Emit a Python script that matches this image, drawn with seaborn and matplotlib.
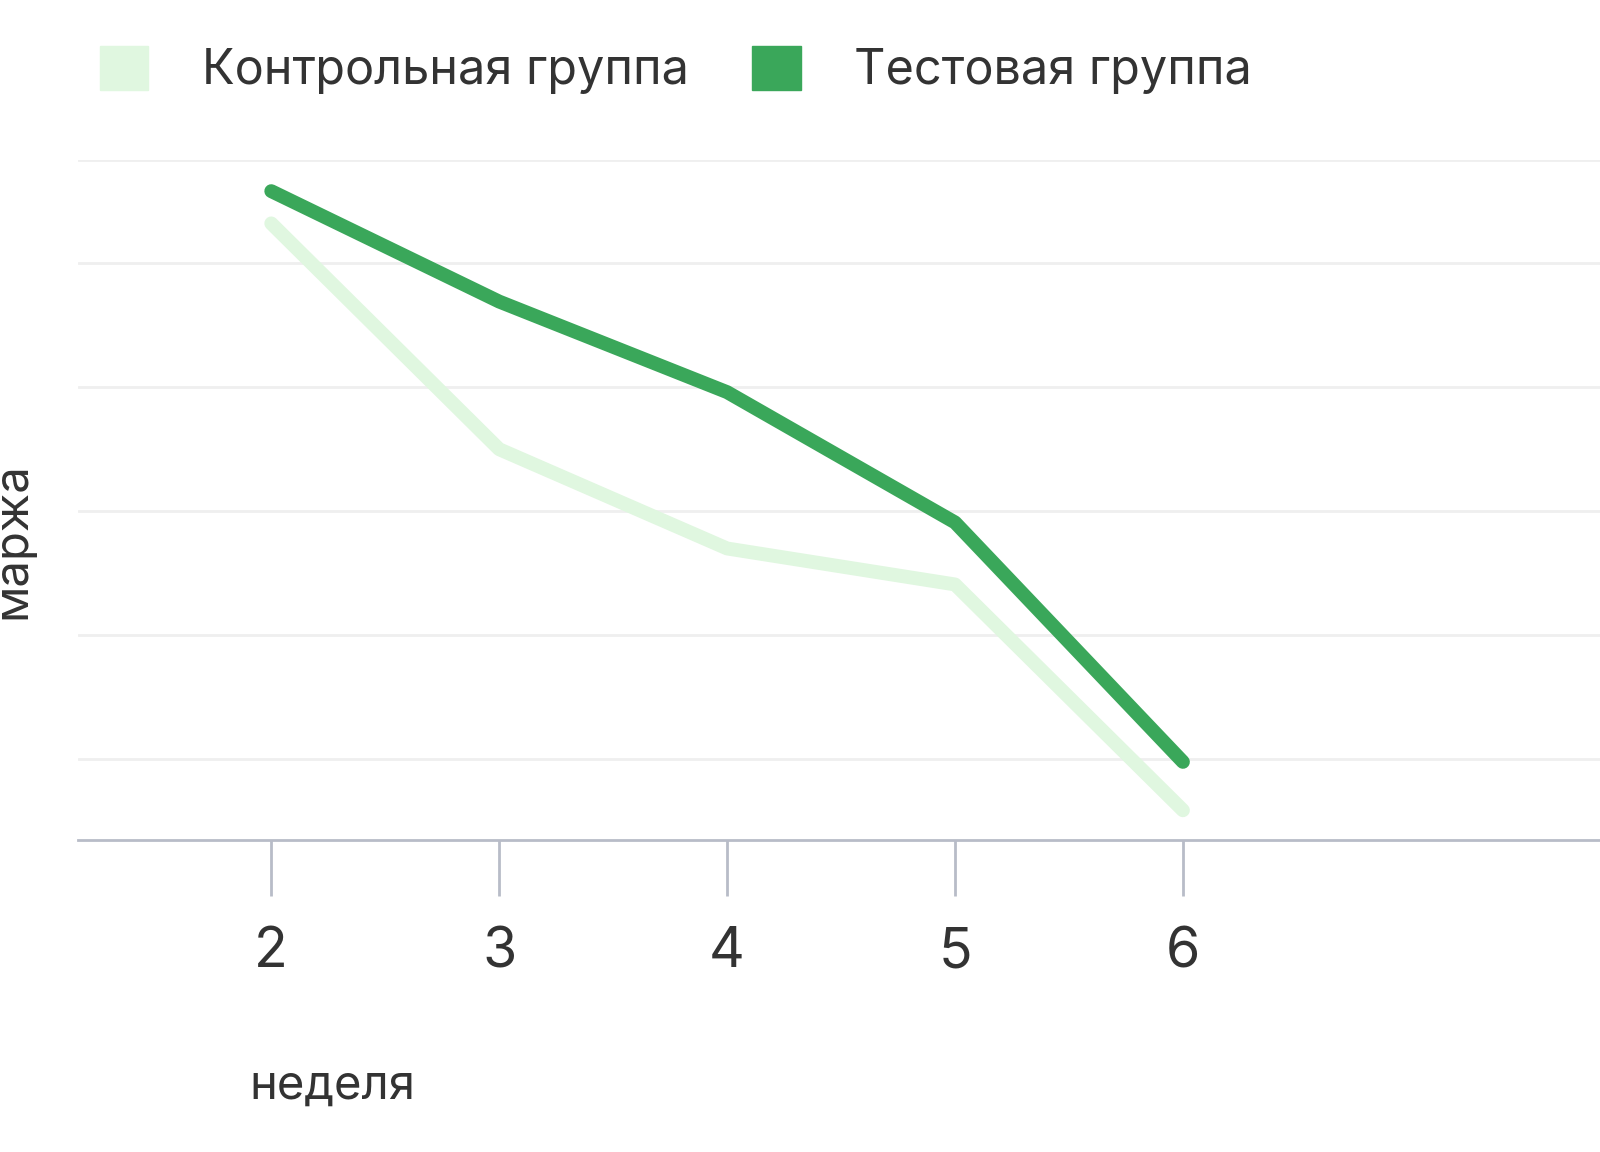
import matplotlib
matplotlib.use("Agg")
import matplotlib.pyplot as plt
import matplotlib.patches as mpatches
import pandas as pd
import seaborn as sns

weeks = [2, 3, 4, 5, 6]
control = [4.97, 3.15, 2.35, 2.06, 0.24]
test = [5.23, 4.34, 3.61, 2.56, 0.63]
grid_levels = [0.65, 1.65, 2.65, 3.65, 4.65, 5.48]

c_light = "#e0f7e0"
c_dark = "#3aa75a"

sns.set_style("white")
plt.rcParams["font.family"] = ["Inter", "DejaVu Sans"]

df = pd.DataFrame({"неделя": weeks * 2,
                   "маржа": control + test,
                   "группа": ["Контрольная группа"] * 5 + ["Тестовая группа"] * 5})

fig = plt.figure(figsize=(16, 11.52), dpi=100)
ax = fig.add_axes([0.04875, 0.2708, 0.95125, 0.5902])
for g in grid_levels:
    ax.axhline(g, color="#efefef", lw=2, zorder=0)
sns.lineplot(data=df, x="неделя", y="маржа", hue="группа",
             palette=[c_light, c_dark], lw=10, legend=False, ax=ax,
             solid_capstyle="round")
ax.set_xlim(1.152, 7.83)
ax.set_ylim(0, 5.48)
ax.set_yticks([])
ax.set_xticks(weeks)
for s in ["top", "right", "left"]:
    ax.spines[s].set_visible(False)
ax.spines["bottom"].set_color("#b8bcc8")
ax.spines["bottom"].set_linewidth(2)
ax.tick_params(axis="x", bottom=True, direction="out", length=40, width=2,
               color="#b8bcc8", pad=22, labelsize=40, labelcolor="#333333")
ax.set_xlabel("неделя", fontsize=34, color="#333333")
ax.xaxis.set_label_coords(0.167, -0.33)
ax.set_ylabel("маржа", fontsize=34, color="#333333")
ax.yaxis.set_label_coords(-0.028, 0.44)

handles = [mpatches.Patch(color=c_light, label="Контрольная группа"),
           mpatches.Patch(color=c_dark, label="Тестовая группа")]
fig.legend(handles=handles, loc="upper left", bbox_to_anchor=(0.035, 0.998),
           ncol=2, frameon=False, fontsize=35, handlelength=1.0,
           handleheight=1.0, handletextpad=1.1, columnspacing=1.3,
           labelcolor="#333333")

fig.savefig("out.png", dpi=100)
